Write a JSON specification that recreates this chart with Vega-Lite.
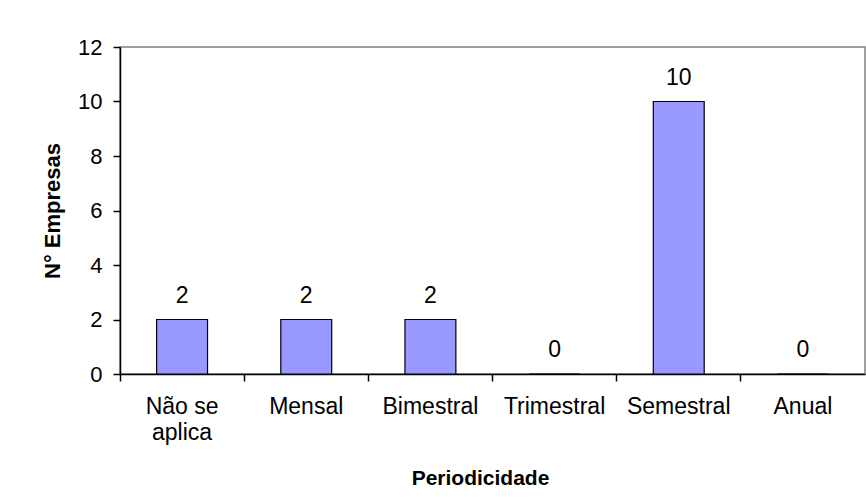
{
  "$schema": "https://vega.github.io/schema/vega-lite/v6.json",
  "autosize": {"type": "none"},
  "padding": {"left": 120, "top": 47, "right": 1, "bottom": 123},
  "width": 745,
  "height": 327,
  "background": "white",
  "config": {
    "font": "Liberation Sans",
    "view": {"stroke": "#808080", "strokeWidth": 1.5}
  },
  "data": {
    "values": [
      {"Periodicidade": "Não se aplica", "Empresas": 2},
      {"Periodicidade": "Mensal", "Empresas": 2},
      {"Periodicidade": "Bimestral", "Empresas": 2},
      {"Periodicidade": "Trimestral", "Empresas": 0},
      {"Periodicidade": "Semestral", "Empresas": 10},
      {"Periodicidade": "Anual", "Empresas": 0}
    ]
  },
  "encoding": {
    "x": {
      "field": "Periodicidade",
      "type": "nominal",
      "sort": null,
      "scale": {"paddingInner": 0, "paddingOuter": 0},
      "axis": {
        "title": "Periodicidade",
        "titleFontSize": 21,
        "titleFontWeight": "bold",
        "titleColor": "black",
        "titleBaseline": "alphabetic",
        "titleX": 360,
        "titleY": 110,
        "labelAngle": 0,
        "labelFontSize": 23,
        "labelColor": "black",
        "labelBaseline": "top",
        "labelPadding": 14,
        "labelLineHeight": 26,
        "labelExpr": "datum.label == 'Não se aplica' ? ['Não se', 'aplica'] : datum.label",
        "bandPosition": 0,
        "tickSize": 7,
        "tickColor": "black",
        "domainColor": "black",
        "domainWidth": 1.5,
        "tickWidth": 1.5,
        "grid": false
      }
    },
    "y": {
      "field": "Empresas",
      "type": "quantitative",
      "scale": {"domain": [0, 12]},
      "axis": {
        "title": "N° Empresas",
        "titleFontSize": 22,
        "titleFontWeight": "bold",
        "titleColor": "black",
        "titleBaseline": "alphabetic",
        "titleX": -61,
        "titleY": 163.5,
        "titleAngle": -90,
        "values": [0, 2, 4, 6, 8, 10, 12],
        "labelFontSize": 22,
        "labelColor": "black",
        "labelPadding": 11,
        "tickSize": 7,
        "tickColor": "black",
        "domainColor": "black",
        "domainWidth": 1.5,
        "tickWidth": 1.5,
        "grid": false
      }
    }
  },
  "layer": [
    {
      "mark": {"type": "bar", "fill": "#9999FF", "stroke": "black", "strokeWidth": 1.2, "width": {"band": 0.41}}
    },
    {
      "mark": {"type": "text", "fontSize": 23, "color": "black", "baseline": "alphabetic", "dy": -17},
      "encoding": {"text": {"field": "Empresas", "type": "quantitative"}}
    }
  ]
}
